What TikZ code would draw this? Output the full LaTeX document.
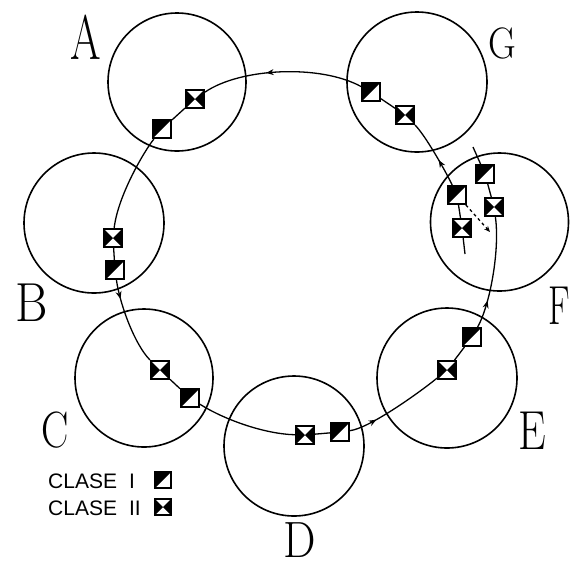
\documentclass[tikz,border=0pt]{standalone}
\usepackage{fontspec}
\newfontfamily\legfont{Liberation Sans}
\usetikzlibrary{arrows.meta,decorations.markings}
\tikzset{
  zone/.style={circle, draw, line width=1.6pt, inner sep=0pt, minimum size=#1},
  sq/.style={draw, line width=2pt, minimum size=18pt, inner sep=0pt, fill=white},
  clI/.style={sq, path picture={\fill[black] (path picture bounding box.north west) -- (path picture bounding box.north east) -- (path picture bounding box.south west) -- cycle;}},
  clII/.style={sq, path picture={\fill[black] (path picture bounding box.north west) -- (path picture bounding box.center) -- (path picture bounding box.south west) -- cycle; \fill[black] (path picture bounding box.north east) -- (path picture bounding box.center) -- (path picture bounding box.south east) -- cycle;}},
  flow/.style={line width=1.3pt},
  midarrow/.style={postaction={decorate}, decoration={markings, mark=at position #1 with {\arrow{Stealth[length=7.5pt,width=6pt]}}}},
  lbl/.style={inner sep=0pt, font=\rmfamily},
  legtext/.style={anchor=base west, inner sep=0pt, font={\legfont\fontsize{21}{22}\selectfont}},
}
\begin{document}
\begin{tikzpicture}[x=1pt,y=-1pt]
\useasboundingbox (0,0) rectangle (572,566);
% zones
\node[zone=138pt] (zA) at (177,82) {};
\node[zone=140pt] (zG) at (417,82) {};
\node[zone=140pt] (zB) at (94,223) {};
\node[zone=138pt] (zF) at (499.5,222) {};
\node[zone=138pt] (zC) at (144,378) {};
\node[zone=140pt] (zE) at (447,378) {};
\node[zone=140pt] (zD) at (294,446) {};
% labels
\node[lbl] (lA) at (86,37) {\fontsize{63}{63}\selectfont\scalebox{0.7}[1]{A}};
\node[lbl] (lG) at (502,43) {\fontsize{44}{44}\selectfont\scalebox{0.87}[1]{G}};
\node[lbl] (lB) at (32,303) {\fontsize{55}{55}\selectfont\scalebox{0.9}[1]{B}};
\node[lbl] (lF) at (559,306) {\fontsize{55}{55}\selectfont\scalebox{0.65}[1]{F}};
\node[lbl] (lC) at (55,430) {\fontsize{51}{51}\selectfont\scalebox{0.8}[1]{C}};
\node[lbl] (lE) at (532,431) {\fontsize{55}{55}\selectfont\scalebox{0.8}[1]{E}};
\node[lbl] (lD) at (300,540) {\fontsize{51}{51}\selectfont\scalebox{0.9}[1]{D}};
% markers
\node[clII] (A2) at (195,99) {};
\node[clI] (A1) at (162,129) {};
\node[clI] (G1) at (371,92) {};
\node[clII] (G2) at (405,115) {};
\node[clII] (B2) at (113,238) {};
\node[clI] (B1) at (115,270) {};
\node[clII] (C2) at (160,370) {};
\node[clI] (C1) at (190,398) {};
\node[clII] (D2) at (305,435) {};
\node[clI] (D1) at (340,432) {};
\node[clII] (E2) at (447,370) {};
\node[clI] (E1) at (472,337) {};
\node[clI] (FL1) at (457,195) {};
\node[clII] (FL2) at (462,228) {};
\node[clI] (FR1) at (485,174) {};
\node[clII] (FR2) at (494,207) {};
\coordinate (FLend) at (465,254);
\coordinate (FRend) at (473,147);
\coordinate (dashend) at (490,232);
% connectors
\draw[flow, midarrow=0.6] (G1) .. controls (320,64) and (240,68) .. (A2);
\draw[flow] (A2) -- (A1);
\draw[flow] (A1) .. controls (145,150) and (118,195) .. (B2);
\draw[flow] (B2) -- (B1);
\draw[flow, midarrow=0.22] (B1) .. controls (120,305) and (135,345) .. (C2);
\draw[flow] (C2) -- (C1);
\draw[flow] (C1) .. controls (225,420) and (265,434) .. (D2);
\draw[flow] (D2) -- (D1);
\draw[flow, midarrow=0.28] (D1) .. controls (370,428) and (420,392) .. (E2);
\draw[flow] (E2) -- (E1);
\draw[flow, midarrow=0.25] (E1) .. controls (490,305) and (500,250) .. (FR2);
\draw[flow] (FR2) -- (FR1);
\draw[flow] (FR1) -- (FRend);
\draw[flow, midarrow=0.4] (FL1) .. controls (445,170) and (425,135) .. (G2);
\draw[flow] (G2) -- (G1);
\draw[flow] (FL1) -- (FL2);
\draw[flow] (FL2) -- (FLend);
\draw[flow, dashed, -{Stealth[length=6pt,width=5pt]}] (FL1) -- (dashend);
% legend
\node[clI, minimum size=16pt] (kI) at (163,480) {};
\node[clII, minimum size=16pt] (kII) at (163,507) {};
\node[legtext] (tI) at (48,488) {CLASE\hspace{12pt}I};
\node[legtext] (tII) at (48,515) {CLASE\hspace{12pt}II};
\end{tikzpicture}
\end{document}
